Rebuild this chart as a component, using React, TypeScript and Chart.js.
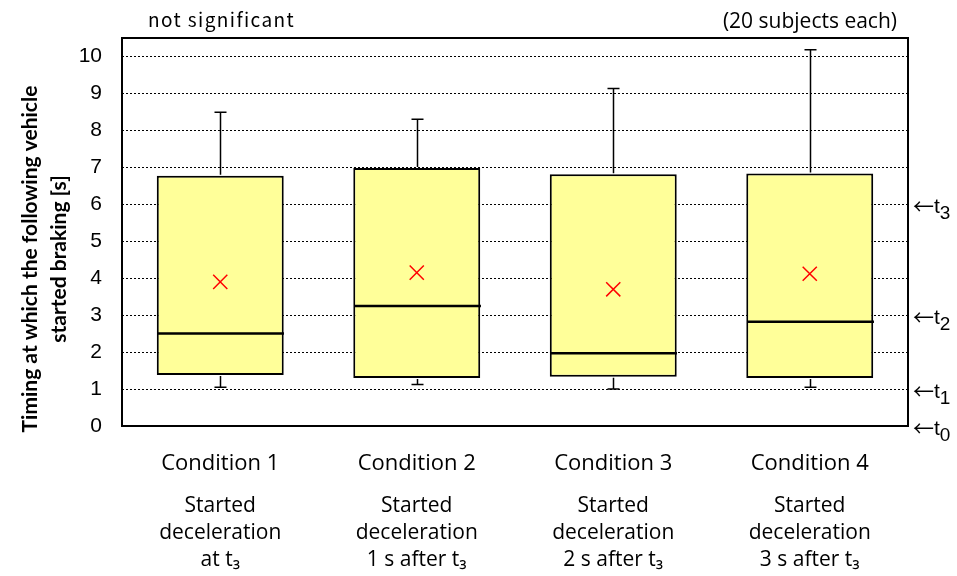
import React, { useEffect, useRef } from 'react';
import { Chart, registerables } from 'chart.js';
Chart.register(...registerables);

const categories = ['Condition 1', 'Condition 2', 'Condition 3', 'Condition 4'];
const subLabels = [
  ['Started', 'deceleration', 'at t₃'],
  ['Started', 'deceleration', '1 s after t₃'],
  ['Started', 'deceleration', '2 s after t₃'],
  ['Started', 'deceleration', '3 s after t₃'],
];
const whiskerMin = [1.05, 1.12, 1.0, 1.05];
const q1 = [1.38, 1.3, 1.33, 1.3];
const median = [2.5, 3.25, 1.97, 2.82];
const q3 = [6.77, 6.98, 6.81, 6.83];
const whiskerMax = [8.49, 8.3, 9.13, 10.18];
const mean = [3.9, 4.15, 3.7, 4.12];
const markerValues = [0, 1, 3, 6];
const markerSubs = ['0', '1', '2', '3'];
const titleLines = ['Timing at which the following vehicle', 'started braking [s]'];
const noteLeft = 'not significant';
const noteRight = '(20 subjects each)';

const boxPlugin = {
  id: 'boxExtras',
  afterDatasetsDraw(chart: any) {
    const { ctx, scales } = chart;
    const x = scales.x;
    const y = scales.y;
    const meta = chart.getDatasetMeta(1);
    ctx.save();
    ctx.strokeStyle = '#000';
    ctx.setLineDash([]);
    categories.forEach((_c, i) => {
      const cx = Math.round(x.getPixelForValue(i)) + 0.5;
      const bar = meta.data[i];
      const half = bar.width / 2;
      const cap = 6;
      const yq3 = y.getPixelForValue(q3[i]);
      const yq1 = y.getPixelForValue(q1[i]);
      const yMax = y.getPixelForValue(whiskerMax[i]);
      const yMin = y.getPixelForValue(whiskerMin[i]);
      ctx.lineWidth = 1.5;
      ctx.beginPath();
      ctx.moveTo(cx, yq3 - 1);
      ctx.lineTo(cx, yMax);
      ctx.moveTo(cx - cap, yMax);
      ctx.lineTo(cx + cap, yMax);
      ctx.moveTo(cx, yq1 + 1);
      ctx.lineTo(cx, yMin);
      ctx.moveTo(cx - cap, yMin);
      ctx.lineTo(cx + cap, yMin);
      ctx.stroke();
      const ym = y.getPixelForValue(median[i]);
      ctx.lineWidth = 2.5;
      ctx.beginPath();
      ctx.moveTo(cx - half, ym);
      ctx.lineTo(cx + half, ym);
      ctx.stroke();
    });
    ctx.restore();
  },
  afterDraw(chart: any) {
    const { ctx, chartArea, scales } = chart;
    ctx.save();
    ctx.strokeStyle = '#000';
    ctx.lineWidth = 2;
    ctx.setLineDash([]);
    ctx.strokeRect(chartArea.left, chartArea.top, chartArea.right - chartArea.left, chartArea.bottom - chartArea.top);
    ctx.fillStyle = '#000';
    // top notes
    ctx.textBaseline = 'alphabetic';
    ctx.font = '19px "Noto Sans CJK JP"';
    try { (ctx as any).letterSpacing = '1.4px'; } catch (e) {}
    ctx.textAlign = 'left';
    ctx.fillText(noteLeft, chartArea.left + 26, 27);
    try { (ctx as any).letterSpacing = '0px'; } catch (e) {}
    ctx.font = '21px "Open Sans"';
    ctx.textAlign = 'right';
    ctx.fillText(noteRight, chartArea.right - 11, 28);
    // right-hand time markers
    markerValues.forEach((v, i) => {
      const py = scales.y.getPixelForValue(v);
      const x0 = chartArea.right + 5;
      ctx.textAlign = 'left';
      ctx.textBaseline = 'middle';
      ctx.font = '21px "Noto Sans CJK JP"';
      ctx.fillText('←', x0, py + 2);
      ctx.textBaseline = 'alphabetic';
      ctx.font = '21px "Liberation Sans"';
      ctx.fillText('t', x0 + 21, py + 9);
      const tw = ctx.measureText('t').width;
      ctx.font = '19px "Liberation Sans"';
      ctx.fillText(markerSubs[i], x0 + 21 + tw, py + 15);
    });
    // y title
    const cy = (chartArea.top + chartArea.bottom) / 2 + 27;
    ctx.font = 'bold 21px Lato';
    ctx.textAlign = 'center';
    ctx.textBaseline = 'middle';
    const xs = [30, 59];
    titleLines.forEach((t, i) => {
      ctx.save();
      ctx.translate(xs[i], cy);
      ctx.rotate(-Math.PI / 2);
      ctx.fillText(t, 0, 0);
      ctx.restore();
    });
    ctx.restore();
  },
};

export default function App() {
  const ref = useRef<HTMLCanvasElement | null>(null);
  useEffect(() => {
    if (!ref.current) return;
    const tickFont = { family: '"Liberation Sans", Arial, sans-serif', size: 21 };
    const chart = new Chart(ref.current, {
      type: 'bar',
      data: {
        labels: categories,
        datasets: [
          {
            type: 'line',
            label: 'Mean',
            data: mean,
            showLine: false,
            pointStyle: 'crossRot',
            pointRadius: 10,
            pointBorderColor: '#FF0000',
            pointBackgroundColor: '#FF0000',
            pointBorderWidth: 1.5,
            borderColor: '#FF0000',
            order: 0,
            xAxisID: 'x',
            yAxisID: 'y',
          } as any,
          {
            type: 'bar',
            label: 'IQR',
            data: q1.map((v, i) => [v, q3[i]]),
            backgroundColor: '#FFFF99',
            borderColor: '#000',
            borderWidth: 2,
            borderSkipped: false,
            barPercentage: 0.646,
            categoryPercentage: 1,
            order: 1,
            xAxisID: 'x',
            yAxisID: 'y',
          } as any,
        ],
      },
      options: {
        animation: false,
        responsive: true,
        maintainAspectRatio: false,
        layout: { padding: { top: 38, left: 0, right: 49, bottom: 0 } },
        plugins: { legend: { display: false }, tooltip: { enabled: false } },
        scales: {
          x: {
            type: 'category',
            position: 'bottom',
            offset: true,
            grid: { display: false, drawTicks: false },
            border: { display: false },
            ticks: {
              color: '#000',
              padding: 25,
              font: { family: '"Open Sans", sans-serif', size: 22 },
              maxRotation: 0,
              autoSkip: false,
            },
            afterFit: (s: any) => { s.height = 62; },
          },
          x2: {
            type: 'category',
            position: 'bottom',
            offset: true,
            labels: subLabels as any,
            grid: { display: false, drawTicks: false },
            border: { display: false },
            ticks: {
              color: '#000',
              padding: 4,
              font: { family: '"Open Sans", "Noto Sans", sans-serif', size: 21, lineHeight: 1.3 },
              maxRotation: 0,
              autoSkip: false,
            },
            afterFit: (s: any) => { s.height = 88; },
          },
          y: {
            type: 'linear',
            position: 'left',
            min: 0,
            max: 10.5,
            grid: { color: '#000', lineWidth: 1, drawTicks: false },
            border: { display: false, dash: [2, 2] },
            ticks: { stepSize: 1, includeBounds: false, color: '#000', padding: 20, font: tickFont },
            afterFit: (s: any) => { s.width = 122; },
          },
        },
      } as any,
      plugins: [boxPlugin],
    });
    return () => chart.destroy();
  }, []);
  return (
    <div style={{ position: 'fixed', left: 0, top: 0, width: 957, height: 576, background: '#fff' }}>
      <canvas ref={ref} />
    </div>
  );
}
